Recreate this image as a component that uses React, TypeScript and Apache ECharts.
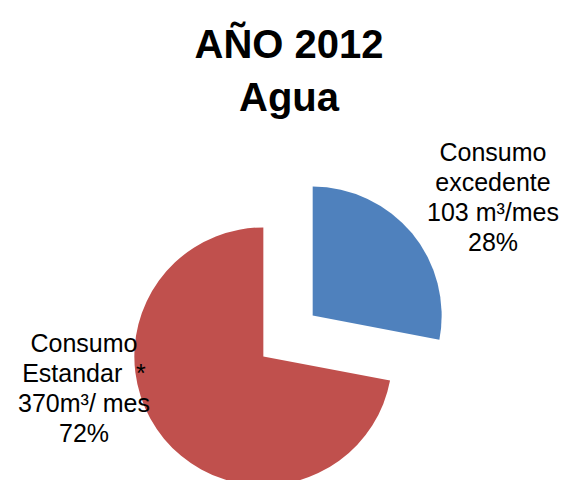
import React, { useEffect, useRef } from "react";
import * as echarts from "echarts";

const titleLines = ["AÑO 2012", "Agua"];
const sliceNames = ["Consumo excedente", "Consumo Estandar"];
const slicePercents = [28, 72];
const sliceLabels = [
  ["Consumo", "excedente", "103 m³/mes", "28%"],
  ["Consumo", "Estandar  *", "370m³/ mes", "72%"],
];
const sliceColors = ["#4F81BD", "#C0504D"];

export default function App() {
  const ref = useRef<HTMLDivElement>(null);
  useEffect(() => {
    if (!ref.current) return;
    const chart = echarts.init(ref.current, null, { renderer: "svg" });
    const labelPos = [
      { x: 493, y: 197 },
      { x: 84, y: 388 },
    ];
    const font = "Liberation Sans, Arial, sans-serif";
    chart.setOption({
      animation: false,
      backgroundColor: "#ffffff",
      title: {
        text: titleLines.join("\n"),
        left: 284,
        top: 12,
        textAlign: "center",
        textStyle: {
          fontFamily: font,
          fontWeight: "bold",
          fontSize: 40,
          lineHeight: 53,
          color: "#000",
        },
      },
      graphic: sliceLabels.map((lines, i) => ({
        type: "text",
        x: labelPos[i].x,
        y: labelPos[i].y,
        z: 10,
        style: {
          text: lines.join("\n"),
          fontFamily: font,
          fontSize: 25,
          lineHeight: 30,
          fill: "#000",
          align: "center",
          verticalAlign: "middle",
        },
      })),
      series: [
        {
          type: "pie",
          center: [288, 336],
          radius: [0, 129],
          startAngle: 90,
          clockwise: true,
          selectedMode: "multiple",
          selectedOffset: 32,
          emphasis: { disabled: true },
          labelLine: { show: false },
          label: { show: false },
          data: slicePercents.map((v, i) => ({
            value: v,
            name: sliceNames[i],
            selected: true,
            itemStyle: { color: sliceColors[i] },
          })),
        },
      ],
    });
    return () => chart.dispose();
  }, []);
  return (
    <div
      ref={ref}
      style={{ position: "absolute", left: 0, top: 0, width: 566, height: 480 }}
    />
  );
}
